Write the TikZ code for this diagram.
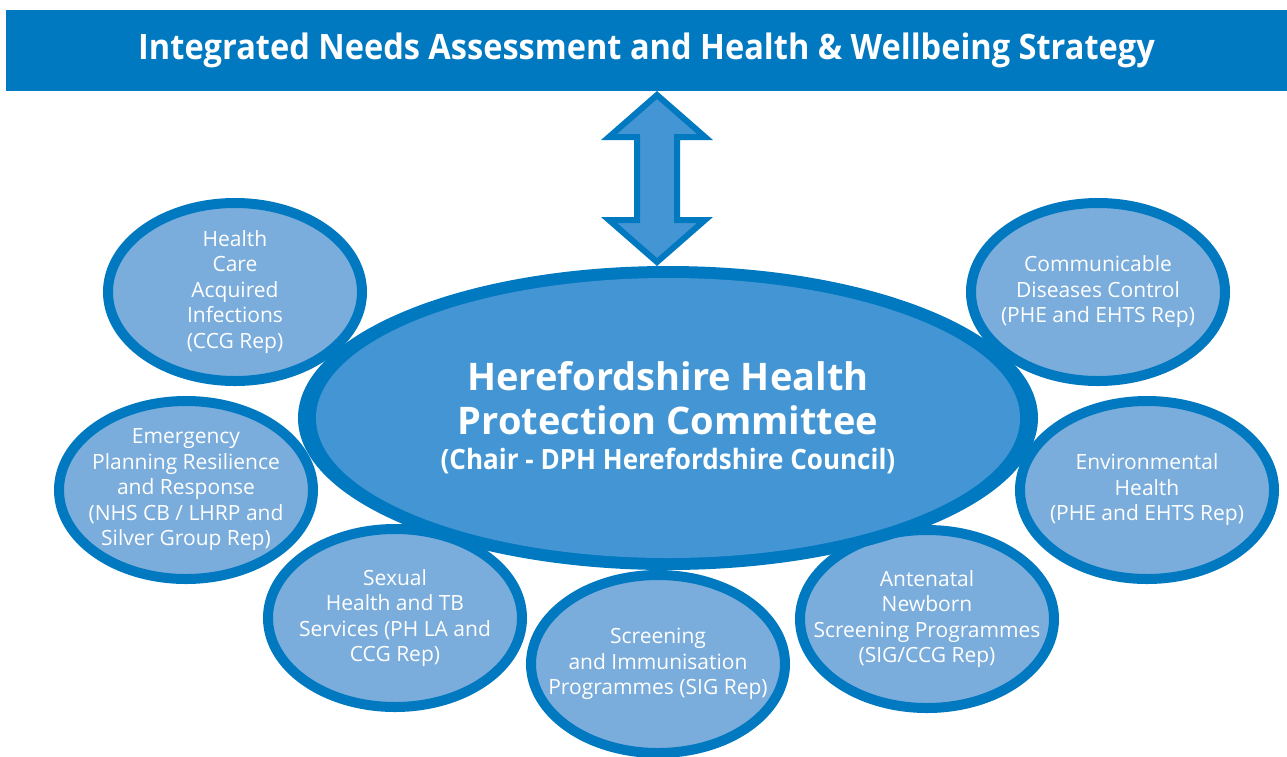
\documentclass[tikz,border=0pt]{standalone}
\usepackage{fontspec}
\setmainfont{Open Sans}
\newfontfamily\narrowsans{Open Sans}[FakeStretch=0.93]
\usetikzlibrary{shapes.geometric,calc}

\definecolor{bandblue}{RGB}{0,121,193}
\definecolor{hubblue}{RGB}{67,150,211}
\definecolor{leafblue}{RGB}{122,173,220}

\tikzset{
  banner/.style={rectangle, fill=bandblue, inner sep=0pt,
    minimum width=1281pt, minimum height=81pt, text height=26pt, text depth=9pt,
    text=white, font=\narrowsans\fontsize{35}{40}\selectfont\bfseries},
  hubshape/.style={ellipse, fill=bandblue, inner sep=0pt,
    minimum width=740pt, minimum height=304pt, text=white, align=center,
    font=\fontsize{38}{44}\selectfont\bfseries,
    path picture={\fill[hubblue] (path picture bounding box.center)
      ellipse [x radius=352pt, y radius=140pt];}},
  % the negative inner sep keeps the ellipse at its minimum size
  leaf/.style={ellipse, draw=bandblue, line width=10pt, fill=leafblue,
    minimum width=254pt, minimum height=178pt, inner xsep=-40pt, inner ysep=-25pt,
    outer sep=5pt, text=white, align=center, font=\fontsize{21}{25.5}\selectfont},
  twoway/.style={draw=bandblue, fill=hubblue, line width=6pt, line join=miter},
}

\begin{document}
\begin{tikzpicture}[x=1pt, y=-1pt]
  \useasboundingbox (0,0) rectangle (1287,756);

  % strategy banner
  \node[banner] (title) at (646.5,50.5)
    {Integrated Needs Assessment and Health \& Wellbeing Strategy};

  % member groups around the committee
  \node[leaf] (hca) at (235,292) {Health\\Care\\Acquired\\Infections\\(CCG Rep)};
  \node[leaf] (epr) at (186,490) {Emergency\\Planning Resilience\\and Response\\(NHS CB / LHRP and\\Silver Group Rep)};
  \node[leaf] (sht) at (395,618) {Sexual\\Health and TB\\Services (PH LA and\\CCG Rep)};
  \node[leaf] (sip) at (658,664) {Screening\\and Immunisation\\Programmes (SIG Rep)};
  \node[leaf] (anp) at (927,619) {Antenatal\\Newborn\\Screening Programmes\\(SIG/CCG Rep)};
  \node[leaf] (env) at (1147,490) {Environmental\\Health\\(PHE and EHTS Rep)};
  \node[leaf] (cdc) at (1098,292) {Communicable\\Diseases Control\\(PHE and EHTS Rep)};

  % the committee itself
  \node[hubshape] (hub) at (668,418)
    {Herefordshire Health\\
     Protection Committee\\[-9pt]
     \narrowsans\fontsize{28}{35}\selectfont\bfseries (Chair - DPH Herefordshire Council)};

  % two-way link between strategy and committee
  \coordinate (upTip) at (657,95);
  \coordinate (downTip) at (657,262);
  \draw[twoway] (upTip) -- ++(48,42) -- ++(-28,0)
    -- ($(downTip)+(20,-42)$) -- ++(28,0) -- (downTip)
    -- ++(-48,-42) -- ++(28,0) -- ($(upTip)+(-20,42)$)
    -- ++(-28,0) -- cycle;
\end{tikzpicture}
\end{document}
